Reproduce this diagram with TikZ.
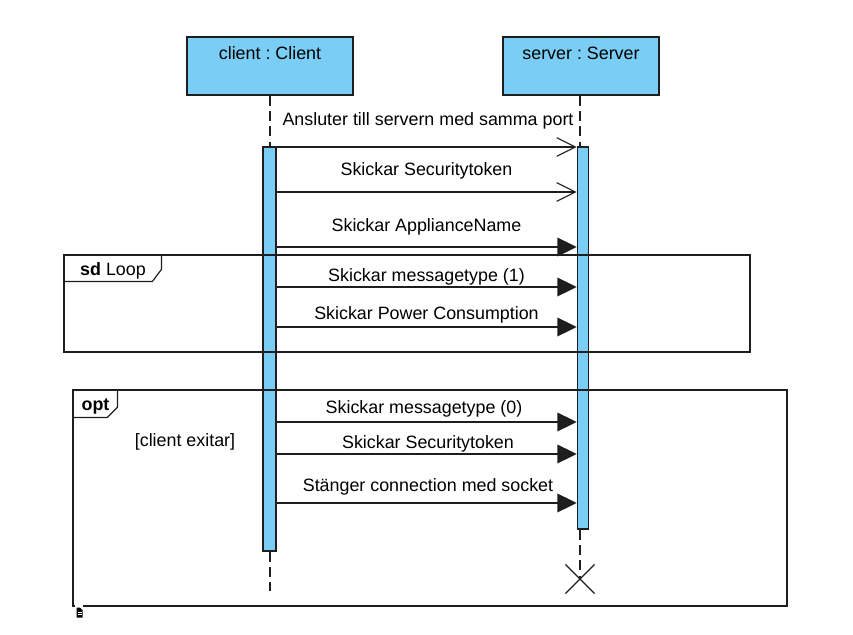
\documentclass[tikz,border=0pt]{standalone}
\usepackage{fontspec}
\setmainfont{Liberation Sans}
\usetikzlibrary{arrows.meta,shapes.misc,calc}
\definecolor{lblue}{RGB}{122,206,245}
\definecolor{lncol}{RGB}{30,30,30}
\frenchspacing
\begin{document}
\begin{tikzpicture}[x=0.75pt,y=-0.75pt,
  font=\fontsize{13.4}{16}\selectfont\frenchspacing,
  objbox/.style={draw=lncol,line width=0.9pt,fill=lblue,minimum height=43.5pt,inner sep=0pt},
  actbar/.style={draw=lncol,line width=0.9pt,fill=lblue,inner sep=0pt},
  lifeline/.style={draw=lncol,line width=0.9pt,dash pattern=on 7.5pt off 4pt},
  syncmsg/.style={draw=lncol,line width=0.9pt,-{Triangle[length=14.5pt,width=14pt]}},
  openmsg/.style={draw=lncol,line width=0.9pt,-{Straight Barb[length=14pt,width=14pt]}},
  fragframe/.style={draw=lncol,line width=0.9pt,inner sep=0pt},
  txt/.style={anchor=base,inner sep=0pt}
]
\useasboundingbox (0,0) rectangle (853,635);

% objects
\node[objbox,minimum width=124.5pt] (client) at (270,66) {};
\node[objbox,minimum width=117pt] (server) at (581,66) {};
\node[txt] (clientlbl) at (270,60) {client : Client};
\node[txt] (serverlbl) at (581,60) {server : Server};

% activation bars
\node[actbar,minimum width=9.75pt,minimum height=303pt] (ca) at (269.5,349) {};
\node[actbar,minimum width=8.5pt,minimum height=286.5pt] (sa) at (583,338) {};

% destruction
\node[cross out,draw=lncol,line width=0.9pt,minimum size=21pt,inner sep=0pt] (kill) at (580,579) {};
\coordinate (cend) at (270,591);

% lifelines
\draw[lifeline] (client.south) -- (client.south |- ca.north);
\draw[lifeline] (client.south |- ca.south) -- (cend);
\draw[lifeline] (kill.center |- server.south) -- (kill.center |- sa.north);
\draw[lifeline] (kill.center |- sa.south) -- (kill.center);

% redraw bars on top of lifelines
\node[actbar,minimum width=9.75pt,minimum height=303pt] at (ca) {};
\node[actbar,minimum width=8.5pt,minimum height=286.5pt] at (sa) {};

% messages
\draw[openmsg] (ca.east |- 0,147) -- (sa.west |- 0,147);
\node[txt] (l1) at (428,125) {Ansluter till servern med samma port};
\draw[openmsg] (ca.east |- 0,192) -- (sa.west |- 0,192);
\node[txt] (l2) at (426.5,175) {Skickar Securitytoken};
\draw[syncmsg] (ca.east |- 0,247) -- (sa.west |- 0,247);
\node[txt] (l3) at (426.5,231) {Skickar ApplianceName};
\draw[syncmsg] (ca.east |- 0,287) -- (sa.west |- 0,287);
\node[txt] (l4) at (426.5,281) {Skickar messagetype (1)};
\draw[syncmsg] (ca.east |- 0,327) -- (sa.west |- 0,327);
\node[txt] (l5) at (426.5,319) {Skickar Power Consumption};
\draw[syncmsg] (ca.east |- 0,422) -- (sa.west |- 0,422);
\node[txt] (l6) at (424,413) {Skickar messagetype (0)};
\draw[syncmsg] (ca.east |- 0,454) -- (sa.west |- 0,454);
\node[txt] (l7) at (428,448) {Skickar Securitytoken};
\draw[syncmsg] (ca.east |- 0,503) -- (sa.west |- 0,503);
\node[txt] (l8) at (428,491) {St\"anger connection med socket};

% combined fragments
\node[fragframe,minimum width=514.5pt,minimum height=72.75pt] (loop) at (407,303.5) {};
\draw[fragframe] ($(loop.north west)+(0,27)$) -- ++(89,0) -- ++(9,-12) -- ++(0,-15);
\node[txt] (looplbl) at (113,275) {\textbf{sd} Loop};

\node[fragframe,minimum width=535.5pt,minimum height=162pt] (opt) at (430,498) {};
\draw[fragframe] ($(opt.north west)+(0,28)$) -- ++(35,0) -- ++(10,-10) -- ++(0,-18);
\node[txt] (optlbl) at (95.5,410) {\textbf{opt}};
\node[txt] (guard) at (185,446) {[client exitar]};

% small note icon
\fill[white] (75,605) rectangle (83,607);
\fill[black] (76.5,607.5) -- (80,607.5) -- (82.5,610) -- (82.5,617.5) -- (76.5,617.5) -- cycle;
\draw[white,line width=0.5pt] (77.5,612) -- (81.5,612) (77.5,614.5) -- (81.5,614.5);
\end{tikzpicture}
\end{document}
